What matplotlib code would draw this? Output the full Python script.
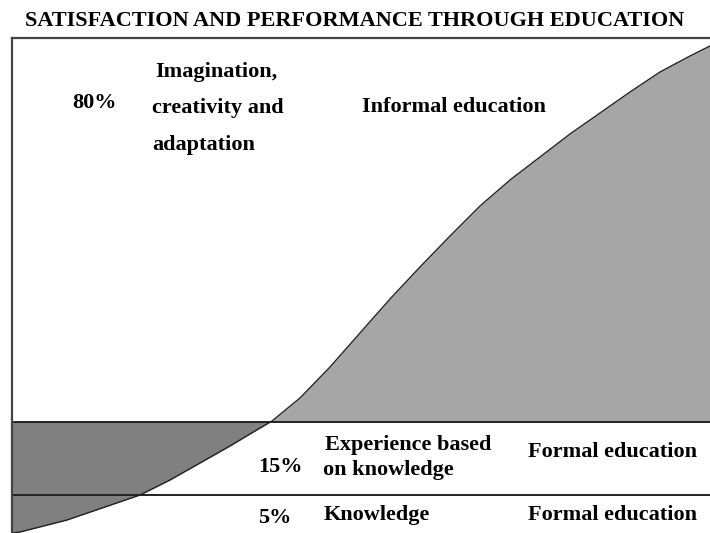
import numpy as np
import matplotlib.pyplot as plt

# curve of satisfaction / performance (drawing units: x = effort, y = level)
curve_x = [0, 8, 55, 128, 158, 188, 218, 243, 260, 288, 318, 348, 378, 408,
           438, 468, 498, 528, 558, 588, 618, 648, 678, 698]
curve_y = [0, 1, 13, 38, 53, 70, 87, 102, 112, 135, 166, 200, 234, 266,
           297, 327, 353, 376, 399, 420, 441, 461, 477, 487]

# band limits: knowledge (5%) / experience (15%) / imagination (80%)
band_edges = [38, 111]
x_max, y_max = 698, 495

shares = ["80%", "15%", "5%"]

plt.rcParams["font.family"] = ["Liberation Serif", "DejaVu Serif"]
plt.rcParams["font.weight"] = "bold"

fig = plt.figure(figsize=(7.1, 5.33), dpi=100)
ax = fig.add_axes([12 / 710, 0, 698 / 710, 495 / 533])
ax.set_xlim(0, x_max)
ax.set_ylim(0, y_max)

x = np.array(curve_x)
y = np.array(curve_y)
top = band_edges[1]

ax.fill_between(x, top, y, where=y >= top, interpolate=True,
                color="#a6a6a6", linewidth=0)
ax.fill_between(x, y, top, where=y <= top, interpolate=True,
                color="#808080", linewidth=0)
ax.plot(x, y, color="#222222", linewidth=1)

for edge in band_edges:
    ax.axhline(edge, color="#222222", linewidth=1.4)

ax.set_xticks([])
ax.set_yticks([])
for side in ["right", "bottom"]:
    ax.spines[side].set_visible(False)
for side in ["top", "left"]:
    ax.spines[side].set_color("#444444")
    ax.spines[side].set_linewidth(1.6)

fig.text(0.5, 1 - 21 / 533, "SATISFACTION AND PERFORMANCE THROUGH EDUCATION",
         ha="center", va="center", fontsize=16, fontweight="bold")

fs = 16
kw = dict(va="baseline", fontsize=fs)
ax.text(60, 425, shares[0], **kw)
ax.text(143, 456, "Imagination,", **kw)
ax.text(140, 420, "creativity and", **kw)
ax.text(140, 383, "adaptation", **kw)
ax.text(350, 421, "Informal education", **kw)

ax.text(246, 61, shares[1], **kw)
ax.text(313, 83, "Experience based", **kw)
ax.text(311, 58, "on knowledge", **kw)
ax.text(516, 76, "Formal education", **kw)

ax.text(246, 10, shares[2], **kw)
ax.text(312, 13, "Knowledge", **kw)
ax.text(516, 13, "Formal education", **kw)

fig.savefig("out.png", dpi=100)
